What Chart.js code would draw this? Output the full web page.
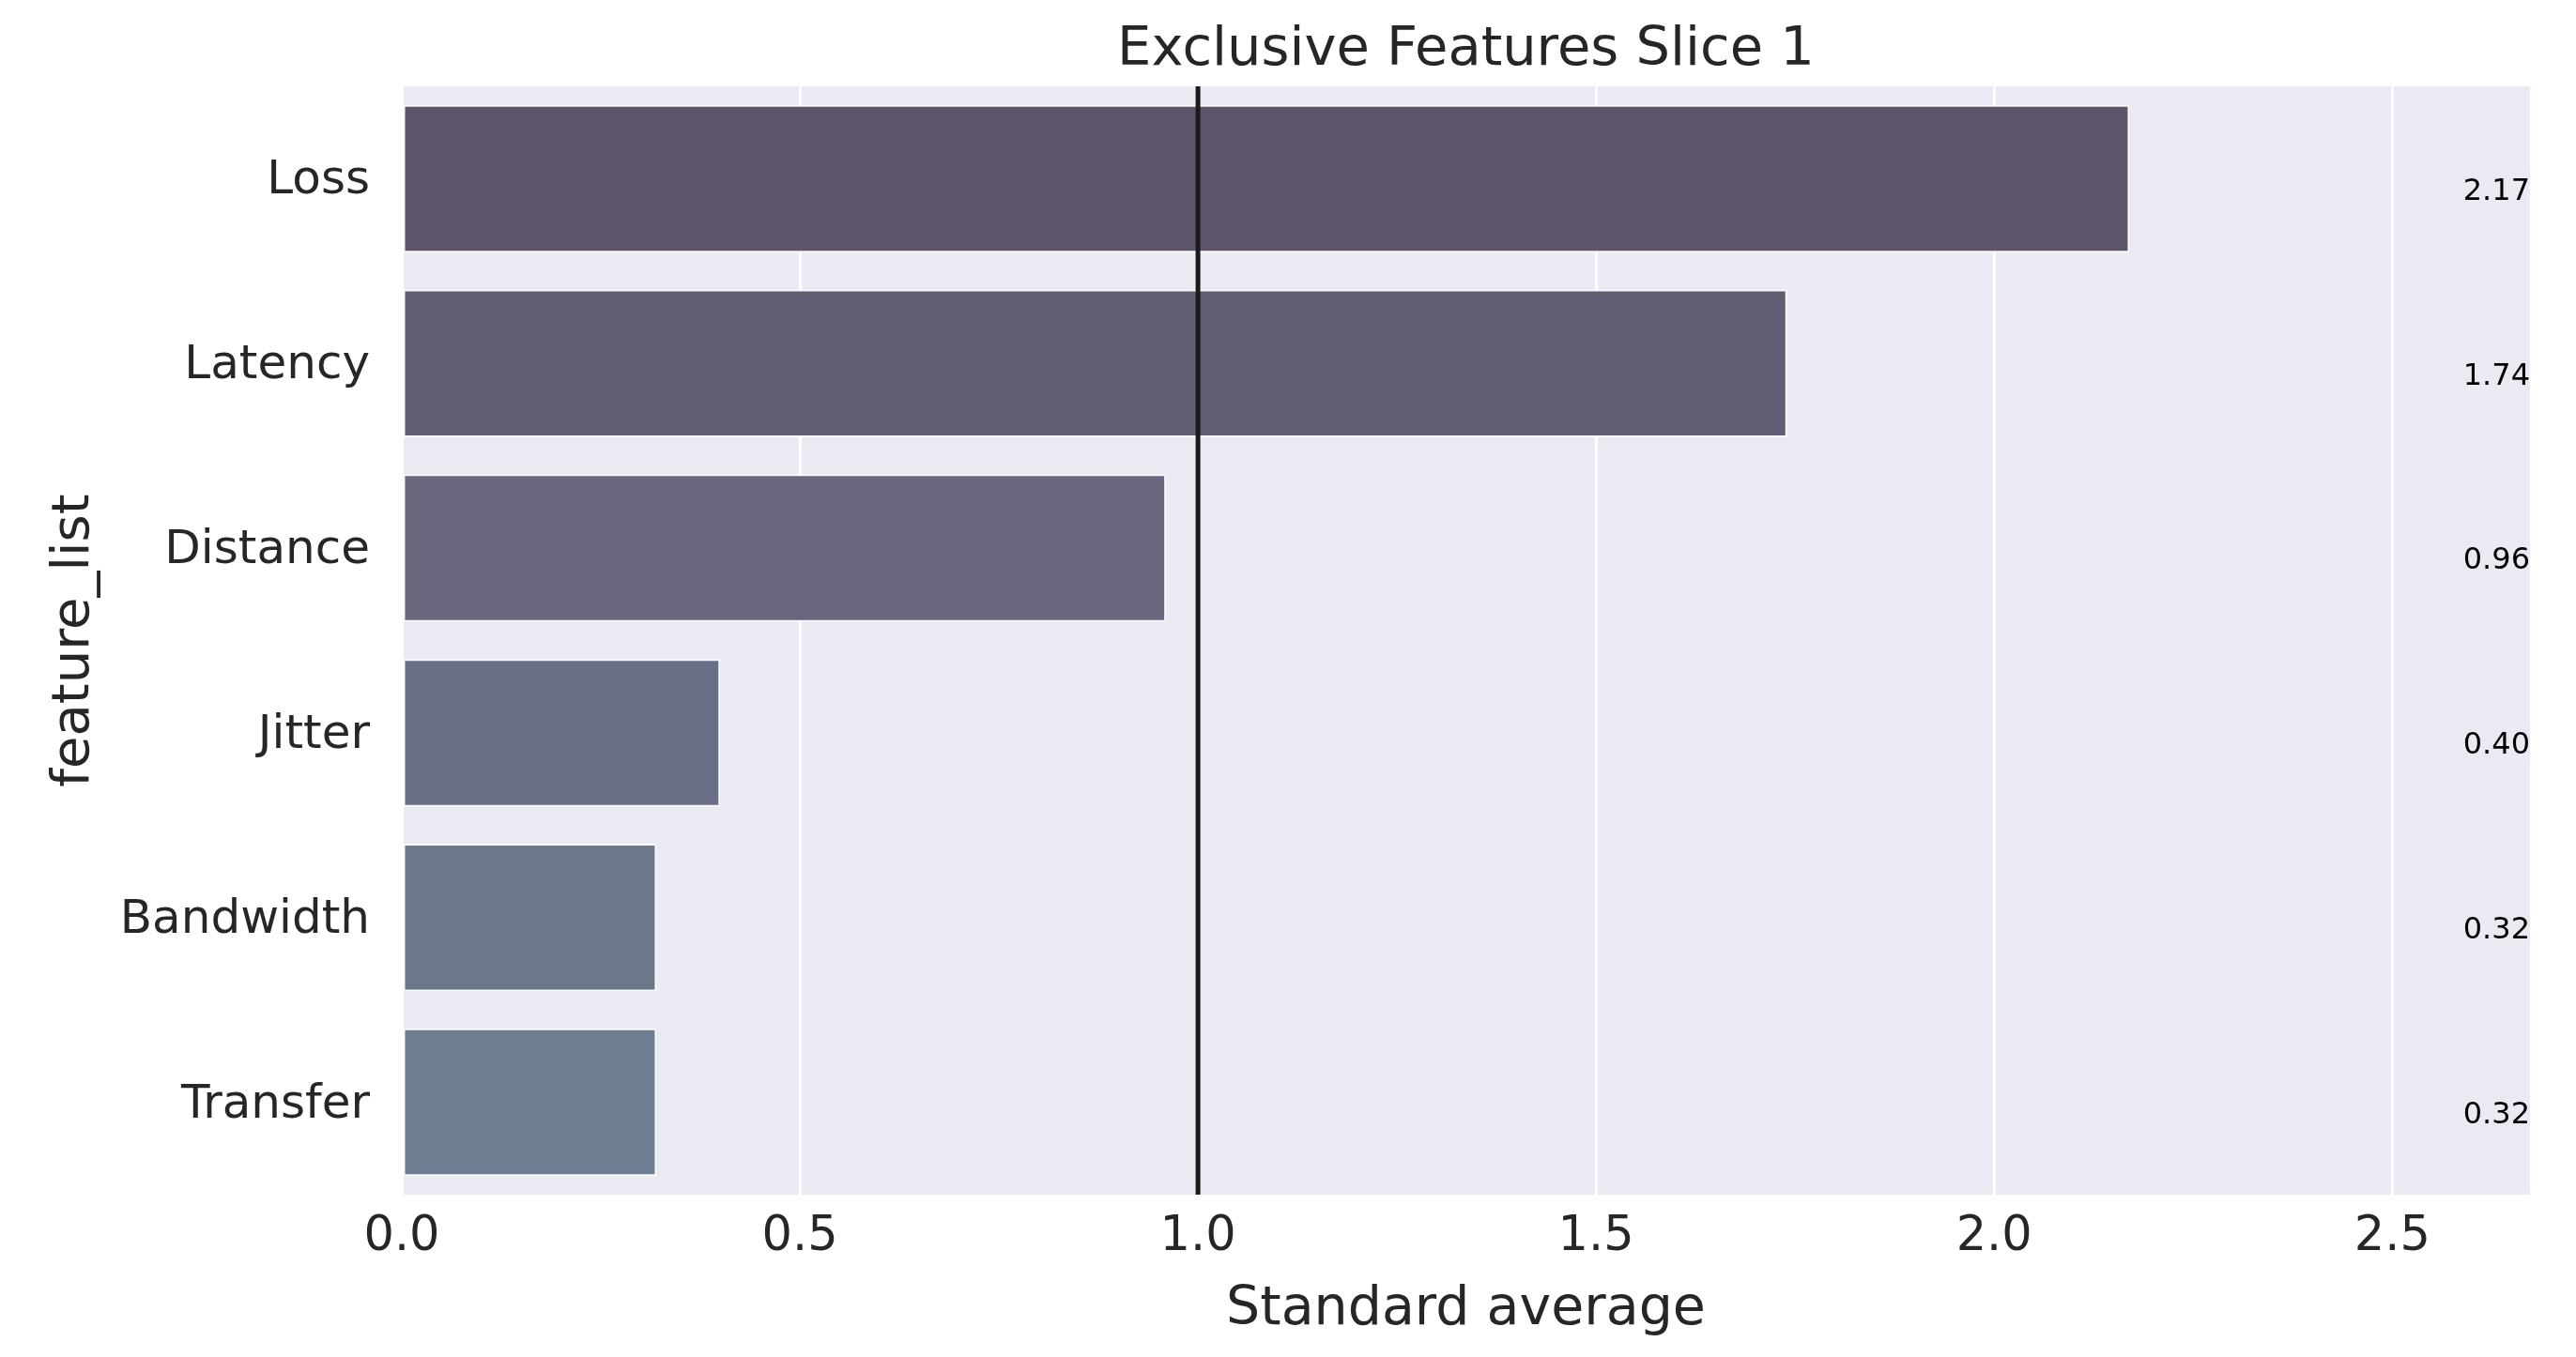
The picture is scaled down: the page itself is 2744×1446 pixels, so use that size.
<!DOCTYPE html>
<html>
<head>
<meta charset="utf-8">
<script src="https://cdn.jsdelivr.net/npm/chart.js@4.4.0/dist/chart.umd.min.js"></script>
<style>
  html,body{margin:0;padding:0;background:#fff}
  canvas{display:block}
</style>
</head>
<body>
<canvas id="c" width="2744" height="1446"></canvas>
<script>
// DATA
const features=['Loss','Latency','Distance','Jitter','Bandwidth','Transfer'];
const stdAverage=[2.17,1.74,0.96,0.40,0.32,0.32];
const valueLabels=['2.17','1.74','0.96','0.40','0.32','0.32'];
const xTicks=[0,0.5,1.0,1.5,2.0,2.5];
const refLine=1.0;

const barColors=['#5d5469','#625c72','#69667e','#6a6f87','#6d778c','#6f7e92'];
const FONT='"DejaVu Sans", sans-serif';
const INK='#262626';

// plot background + reference line + value labels
const decor={
  id:'decor',
  beforeDraw(chart){
    const {ctx,chartArea:a}=chart;
    ctx.save();
    ctx.fillStyle='#eaeaf2';
    ctx.fillRect(a.left,a.top,a.right-a.left,a.bottom-a.top);
    ctx.restore();
  },
  afterDatasetsDraw(chart){
    const {ctx,chartArea:a,scales}=chart;
    const x=scales.x.getPixelForValue(refLine);
    ctx.save();
    ctx.strokeStyle='#1a1a1a';
    ctx.lineWidth=5;
    ctx.beginPath();ctx.moveTo(x,a.top);ctx.lineTo(x,a.bottom);ctx.stroke();
    ctx.fillStyle='#000';
    ctx.font='32px '+FONT;
    ctx.textAlign='right';
    ctx.textBaseline='middle';
    valueLabels.forEach((t,i)=>{
      ctx.fillText(t,a.right,scales.y.getPixelForValue(i)+14);
    });
    ctx.restore();
  }
};

new Chart(document.getElementById('c'),{
  type:'bar',
  data:{labels:features,datasets:[{
    data:stdAverage,
    backgroundColor:barColors,
    borderColor:'rgba(255,255,255,0.75)',
    borderWidth:2,
    borderSkipped:false,
    categoryPercentage:1,
    barPercentage:0.8
  }]},
  options:{
    indexAxis:'y',
    responsive:false,
    devicePixelRatio:1,
    animation:false,
    layout:{padding:{left:0,right:49,top:0,bottom:0}},
    plugins:{
      legend:{display:false},
      tooltip:{enabled:false},
      title:{display:true,text:'Exclusive Features Slice 1',fullSize:false,color:INK,
        font:{family:FONT,size:57.5,weight:'normal',lineHeight:1.2},padding:{top:20,bottom:3}}
    },
    scales:{
      x:{
        type:'linear',min:0,max:2.673,
        afterBuildTicks(s){s.ticks=xTicks.map(v=>({value:v}));},
        afterFit(s){s.height=173;},
        grid:{color:'#ffffff',lineWidth:3,drawTicks:false},
        border:{display:false},
        ticks:{color:INK,padding:20,font:{family:FONT,size:51,lineHeight:1},
          callback:v=>v.toFixed(1)},
        title:{display:true,text:'Standard average',color:INK,
          font:{family:FONT,size:57,lineHeight:1},padding:{top:0,bottom:21}}
      },
      y:{
        afterFit(s){s.width=428;},
        grid:{display:false,drawTicks:false},
        border:{display:false},
        ticks:{color:INK,padding:34,labelOffset:3,font:{family:FONT,size:50,lineHeight:1}},
        title:{display:true,text:'feature_list',color:INK,
          font:{family:FONT,size:56,lineHeight:1},padding:{top:51,bottom:0}}
      }
    }
  },
  plugins:[decor]
});
</script>
</body>
</html>
